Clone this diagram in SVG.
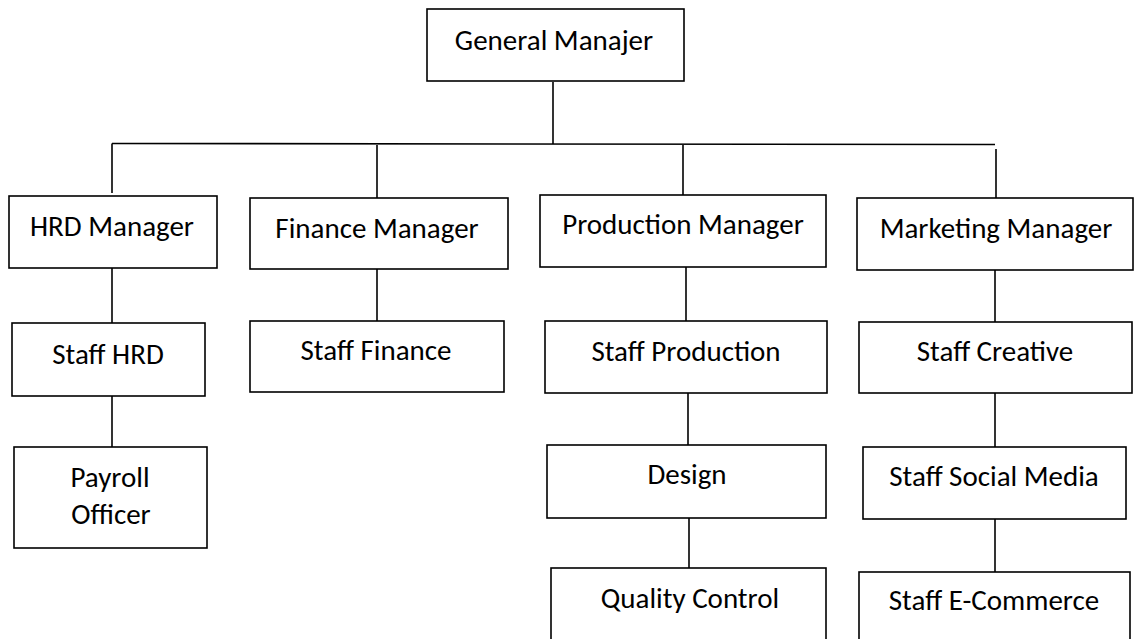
<svg xmlns="http://www.w3.org/2000/svg" width="1135" height="639" viewBox="0 0 1135 639">
<style>
  .box { fill: #ffffff; stroke: #000000; stroke-width: 1.6; }
  .lbl { font-family: Carlito, Lato, "Liberation Sans", sans-serif; font-size: 29px; fill: #000000; text-anchor: middle; }
  .con line { stroke: #000000; stroke-width: 1.6; }
</style>
<rect x="0" y="0" width="1135" height="639" fill="#ffffff"/>
<g id="connectors" class="con">
  <line x1="553" y1="82" x2="553" y2="144"/>
  <line x1="112" y1="143.5" x2="995" y2="144.5"/>
  <line x1="112" y1="143.5" x2="112" y2="193"/>
  <line x1="377" y1="145" x2="377" y2="198"/>
  <line x1="683" y1="145" x2="683" y2="195"/>
  <line x1="996" y1="149" x2="996" y2="198"/>
  <line x1="112" y1="268" x2="112" y2="323"/>
  <line x1="112" y1="396" x2="112" y2="447"/>
  <line x1="377" y1="269" x2="377" y2="321"/>
  <line x1="686" y1="267" x2="686" y2="321"/>
  <line x1="688" y1="393" x2="688" y2="445"/>
  <line x1="689" y1="518" x2="689" y2="568"/>
  <line x1="995" y1="270" x2="995" y2="322"/>
  <line x1="995" y1="393" x2="995" y2="447"/>
  <line x1="995" y1="519" x2="995" y2="572"/>
</g>
<g id="general-manager">
  <rect class="box" x="427" y="9" width="257" height="72"/>
  <text class="lbl" x="554" y="50">General Manajer</text>
</g>
<g id="hrd-manager">
  <rect class="box" x="9" y="196" width="208" height="72"/>
  <text class="lbl" x="112" y="236">HRD Manager</text>
</g>
<g id="finance-manager">
  <rect class="box" x="250" y="198" width="258" height="71"/>
  <text class="lbl" x="377" y="238">Finance Manager</text>
</g>
<g id="production-manager">
  <rect class="box" x="540" y="195" width="286" height="72"/>
  <text class="lbl" x="683" y="234">Production Manager</text>
</g>
<g id="marketing-manager">
  <rect class="box" x="857" y="198" width="276" height="72"/>
  <text class="lbl" x="996" y="238">Marketing Manager</text>
</g>
<g id="staff-hrd">
  <rect class="box" x="12" y="323" width="193" height="73"/>
  <text class="lbl" x="108" y="364">Staff HRD</text>
</g>
<g id="payroll-officer">
  <rect class="box" x="14" y="447" width="193" height="101"/>
  <text class="lbl" x="110" y="487">Payroll</text>
  <text class="lbl" x="111" y="524">Officer</text>
</g>
<g id="staff-finance">
  <rect class="box" x="250" y="321" width="254" height="71"/>
  <text class="lbl" x="376" y="360">Staff Finance</text>
</g>
<g id="staff-production">
  <rect class="box" x="545" y="321" width="282" height="72"/>
  <text class="lbl" x="686" y="361">Staff Production</text>
</g>
<g id="design">
  <rect class="box" x="547" y="445" width="279" height="73"/>
  <text class="lbl" x="687" y="484">Design</text>
</g>
<g id="quality-control">
  <rect class="box" x="551" y="568" width="275" height="90"/>
  <text class="lbl" x="690" y="608">Quality Control</text>
</g>
<g id="staff-creative">
  <rect class="box" x="859" y="322" width="273" height="71"/>
  <text class="lbl" x="995" y="361">Staff Creative</text>
</g>
<g id="staff-social-media">
  <rect class="box" x="863" y="447" width="263" height="72"/>
  <text class="lbl" x="994" y="486">Staff Social Media</text>
</g>
<g id="staff-e-commerce">
  <rect class="box" x="859" y="572" width="271" height="90"/>
  <text class="lbl" x="994" y="610">Staff E-Commerce</text>
</g>
</svg>
